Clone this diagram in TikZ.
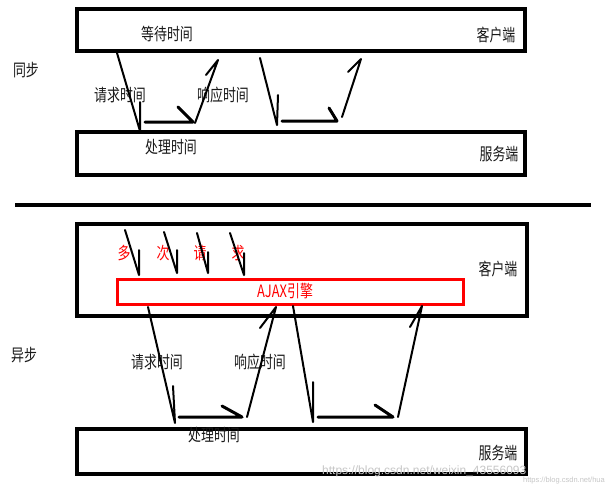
\documentclass[tikz,border=0pt]{standalone}
\usepackage{fontspec}
\newfontfamily\cjk[FakeStretch=0.76]{Noto Sans CJK SC}
\newfontfamily\wmfont{Liberation Sans}
\begin{document}
\begin{tikzpicture}[x=1pt,y=-1pt,
  boxshape/.style={draw=black,line width=3.5pt,fill=white,inner sep=0pt},
  redbox/.style={draw=red,line width=3pt,inner sep=0pt},
  lbl/.style={font=\cjk\fontsize{17}{17}\selectfont,text=black!90,inner sep=0pt},
  redlbl/.style={font=\cjk\fontsize{17}{17}\selectfont,text=red,inner sep=0pt},
  wm/.style={font=\wmfont\fontsize{12}{12}\selectfont,text=black!22,inner sep=0pt},
  thin/.style={line width=2pt,line cap=round},
  thick/.style={line width=3pt,line cap=round},
]
\useasboundingbox (0,0) rectangle (607,491);
\fill[white] (0,0) rectangle (607,491);

% ---------- synchronous ----------
\node[boxshape,minimum width=448pt,minimum height=42pt] (c1) at (301,30) {};
\node[boxshape,minimum width=448pt,minimum height=43pt] (s1) at (301,153.5) {};
\node[lbl] (wait) at (167,34) {等待时间};
\node[lbl] (cl1) at (496,35) {客户端};
\node[lbl] (sync) at (26,70) {同步};
\node[lbl] (req1) at (120,95) {请求时间};
\node[lbl] (resp1) at (223,95) {响应时间};
\node[lbl] (proc1) at (171,147) {处理时间};
\node[lbl] (sv1) at (499,154) {服务端};

\coordinate (a1) at (117,53);  \coordinate (a2) at (140,131); \coordinate (a3) at (140,102);
\draw[thin] (a1) -- (a2) (a3) -- (a2);
\coordinate (h1) at (145,122); \coordinate (h2) at (193,122); \coordinate (h3) at (178,107);
\draw[thick] (h1) -- (h2) (h3) -- (h2);
\coordinate (u1) at (195,123); \coordinate (u2) at (218,60); \coordinate (u3) at (206,75);
\draw[thin] (u1) -- (u2) (u3) -- (u2);

\coordinate (b1) at (260,58);  \coordinate (b2) at (277,125); \coordinate (b3) at (278,95);
\draw[thin] (b1) -- (b2) (b3) -- (b2);
\coordinate (k1) at (282,121); \coordinate (k2) at (337,121); \coordinate (k3) at (329,108);
\draw[thick] (k1) -- (k2) (k3) -- (k2);
\coordinate (v1) at (342,117); \coordinate (v2) at (361,59); \coordinate (v3) at (348,72);
\draw[thin] (v1) -- (v2) (v3) -- (v2);

% separator
\coordinate (sepL) at (15,205); \coordinate (sepR) at (591,205);
\draw[line width=4pt] (sepL) -- (sepR);

% ---------- asynchronous ----------
\node[boxshape,minimum width=450pt,minimum height=92pt] (c2) at (302,270) {};
\node[redbox,minimum width=346pt,minimum height=25pt] (ajax) at (290,291.5) {};
\node[redlbl] (ajaxt) at (285,291) {AJAX引擎};
\node[boxshape,minimum width=449pt,minimum height=45pt] (s2) at (301.5,451.5) {};

\node[redlbl] (r1) at (124,253) {多};
\node[redlbl] (r2) at (163,253) {次};
\node[redlbl] (r3) at (200,253) {请};
\node[redlbl] (r4) at (238,253) {求};
\node[lbl] (cl2) at (498,269) {客户端};
\node[lbl] (async) at (24,355) {异步};
\node[lbl] (req2) at (157,362) {请求时间};
\node[lbl] (resp2) at (260,362) {响应时间};
\node[lbl] (proc2) at (214,435) {处理时间};
\node[lbl] (sv2) at (498,453) {服务端};

% small request arrows
\coordinate (m1a) at (125,230); \coordinate (m1b) at (139,275); \coordinate (m1c) at (139,250);
\draw[thin] (m1a) -- (m1b) (m1c) -- (m1b);
\coordinate (m2a) at (164,232); \coordinate (m2b) at (177,273); \coordinate (m2c) at (177,250);
\draw[thin] (m2a) -- (m2b) (m2c) -- (m2b);
\coordinate (m3a) at (197,233); \coordinate (m3b) at (208,273); \coordinate (m3c) at (208,252);
\draw[thin] (m3a) -- (m3b) (m3c) -- (m3b);
\coordinate (m4a) at (230,233); \coordinate (m4b) at (244,275); \coordinate (m4c) at (244,253);
\draw[thin] (m4a) -- (m4b) (m4c) -- (m4b);

% big arrows
\coordinate (d1a) at (148,307); \coordinate (d1b) at (175,423); \coordinate (d1c) at (173,386);
\draw[thin] (d1a) -- (d1b) (d1c) -- (d1b);
\coordinate (e1a) at (179,417); \coordinate (e1b) at (242,417); \coordinate (e1c) at (222,406);
\draw[thick] (e1a) -- (e1b) (e1c) -- (e1b);
\coordinate (f1a) at (247,417); \coordinate (f1b) at (276,307); \coordinate (f1c) at (260,328);
\draw[thin] (f1a) -- (f1b) (f1c) -- (f1b);

\coordinate (d2a) at (293,306); \coordinate (d2b) at (313,422); \coordinate (d2c) at (313,382);
\draw[thin] (d2a) -- (d2b) (d2c) -- (d2b);
\coordinate (e2a) at (318,417); \coordinate (e2b) at (393,417); \coordinate (e2c) at (375,405);
\draw[thick] (e2a) -- (e2b) (e2c) -- (e2b);
\coordinate (f2a) at (398,417); \coordinate (f2b) at (422,306); \coordinate (f2c) at (410,327);
\draw[thin] (f2a) -- (f2b) (f2c) -- (f2b);

% watermark
\node[wm,anchor=west] (wm1) at (322,471) {https://blog.csdn.net/weixin\_43556093};
\node[font=\wmfont\fontsize{7.5}{7.5}\selectfont,text=black!22,inner sep=0pt,anchor=east] (wm2) at (605,481) {https://blog.csdn.net/hua};
\end{tikzpicture}
\end{document}
